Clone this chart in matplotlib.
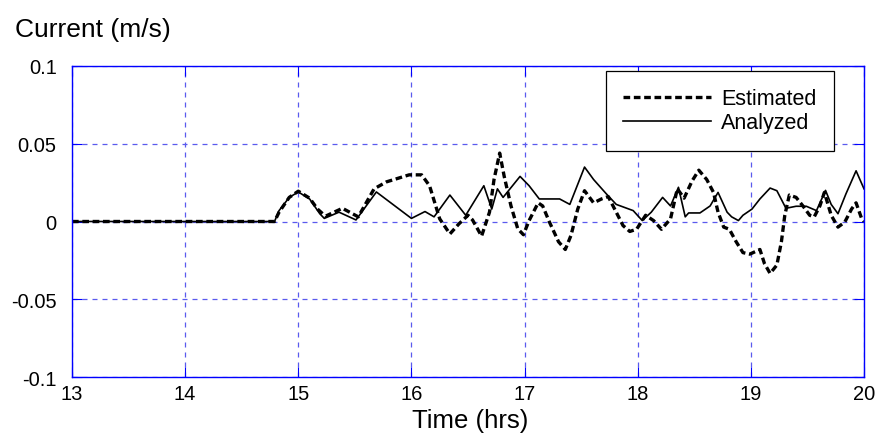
import matplotlib
matplotlib.use("Agg")
import matplotlib.pyplot as plt

plt.rcParams['font.family'] = ['Liberation Sans', 'DejaVu Sans']

# Estimated series (time in hours, current in m/s)
est_t = [13.0, 14.79, 14.83, 14.92, 15.0, 15.1, 15.17, 15.24, 15.39, 15.53, 15.67,
         15.78, 15.98, 16.09, 16.16, 16.25, 16.34, 16.42, 16.5, 16.54, 16.62, 16.69,
         16.73, 16.78, 16.82, 16.88, 16.94, 16.99, 17.04, 17.12, 17.16, 17.22, 17.3,
         17.36, 17.41, 17.47, 17.53, 17.61, 17.68, 17.74, 17.81, 17.87, 17.93, 17.99,
         18.07, 18.14, 18.21, 18.29, 18.35, 18.41, 18.48, 18.54, 18.61, 18.67, 18.71,
         18.76, 18.81, 18.87, 18.93, 18.99, 19.08, 19.12, 19.17, 19.23, 19.27, 19.3,
         19.34, 19.4, 19.46, 19.52, 19.56, 19.61, 19.65, 19.71, 19.77, 19.83, 19.89,
         19.93, 19.98, 20.0]
est_v = [0.0, 0.0, 0.006, 0.0155, 0.0195, 0.015, 0.008, 0.0034, 0.0085, 0.003, 0.021,
         0.0255, 0.030, 0.030, 0.023, 0.0017, -0.008, -0.0015, 0.004, 0.001, -0.0094, 0.006,
         0.027, 0.044, 0.029, 0.010, -0.0047, -0.0085, 0.0006, 0.012, 0.010, -0.0004, -0.013,
         -0.018, -0.009, 0.008, 0.0198, 0.012, 0.0145, 0.016, 0.006, -0.0026, -0.0064, -0.005,
         0.004, 0.0006, -0.005, 0.0017, 0.021, 0.015, 0.026, 0.033, 0.027, 0.0187, 0.006,
         -0.0036, -0.005, -0.013, -0.020, -0.021, -0.018, -0.027, -0.0334, -0.028, -0.013, 0.004,
         0.017, 0.0155, 0.010, 0.004, 0.003, 0.010, 0.0187, 0.004, -0.0036, -0.0004, 0.008,
         0.012, 0.0017, 0.0]

# Analyzed series
ana_t = [13.0, 14.79, 14.83, 14.92, 15.0, 15.1, 15.19, 15.23, 15.36, 15.51, 15.69,
         16.0, 16.12, 16.2, 16.34, 16.48, 16.64, 16.71, 16.76, 16.81, 16.96, 17.04,
         17.13, 17.31, 17.4, 17.53, 17.61, 17.72, 17.81, 17.96, 18.04, 18.12, 18.22,
         18.29, 18.36, 18.42, 18.45, 18.55, 18.64, 18.71, 18.79, 18.83, 18.89, 18.93,
         19.01, 19.08, 19.17, 19.23, 19.31, 19.4, 19.49, 19.58, 19.66, 19.71, 19.77,
         19.84, 19.93, 20.0]
ana_v = [0.0, 0.0, 0.007, 0.0155, 0.019, 0.0145, 0.005, 0.002, 0.006, 0.001, 0.019,
         0.002, 0.0064, 0.003, 0.017, 0.004, 0.023, 0.008, 0.021, 0.0155, 0.029, 0.023,
         0.0145, 0.0145, 0.011, 0.035, 0.027, 0.018, 0.011, 0.007, 0.0006, 0.006, 0.0155,
         0.010, 0.022, 0.003, 0.0055, 0.0055, 0.010, 0.0187, 0.006, 0.003, 0.0006, 0.004,
         0.008, 0.0145, 0.0215, 0.0198, 0.0085, 0.0098, 0.0098, 0.007, 0.020, 0.011, 0.005,
         0.0177, 0.0326, 0.021]

xticks = [13, 14, 15, 16, 17, 18, 19, 20]
yticks = [-0.1, -0.05, 0, 0.05, 0.1]
ytick_labels = ["-0.1", "-0.05", "0", "0.05", "0.1"]

W, H = 880, 435
fig = plt.figure(figsize=(8.8, 4.35), dpi=100)
ax = fig.add_axes([72 / W, 1 - 378 / H, (864 - 72) / W, (378 - 67) / H])

blue = "#0000ff"
ax.plot(est_t, est_v, color="black", linestyle=(0, (2, 1.1)), linewidth=2.4, label="Estimated")
ax.plot(ana_t, ana_v, color="black", linestyle="-", linewidth=1.2, label="Analyzed")

ax.set_xlim(13, 20)
ax.set_ylim(-0.1, 0.1)
ax.set_xticks(xticks)
ax.set_yticks(yticks)
ax.set_yticklabels(ytick_labels)
ax.grid(True, color="#5a5aee", linestyle=(0, (4, 4)), linewidth=0.9)
for s in ax.spines.values():
    s.set_color(blue)
    s.set_linewidth(1.0)
ax.tick_params(direction="in", color=blue, length=7, labelsize=14.5, top=True, right=True)
ax.tick_params(axis="x", pad=5)
ax.tick_params(axis="y", pad=11)

# axis titles as free text, like the original
fig.text(470 / W, 1 - 428 / H, "Time (hrs)", fontsize=18.5, ha="center", va="baseline")
fig.text(15 / W, 1 - 37 / H, "Current (m/s)", fontsize=19, ha="left", va="baseline")

leg = ax.legend(loc="upper left", bbox_to_anchor=(606 / W, 1 - 72 / H),
                bbox_transform=fig.transFigure, fontsize=15.5, fancybox=False,
                framealpha=1, edgecolor="black", handlelength=4.1, handletextpad=0.45,
                borderpad=0.8, labelspacing=0.15, borderaxespad=0)
leg.get_frame().set_linewidth(0.9)

fig.savefig("out.png", dpi=100)
